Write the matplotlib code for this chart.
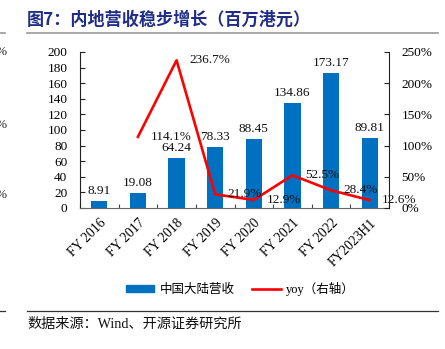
import numpy as np
import matplotlib
matplotlib.use("Agg")
import matplotlib.pyplot as plt
from matplotlib.lines import Line2D
from matplotlib.patches import Patch

categories = ["FY 2016", "FY 2017", "FY 2018", "FY 2019", "FY 2020", "FY 2021", "FY 2022", "FY2023H1"]
revenue = [8.91, 19.08, 64.24, 78.33, 88.45, 134.86, 173.17, 89.81]
yoy = [np.nan, 114.1, 236.7, 21.9, 12.9, 52.5, 28.4, 12.6]
left_ticks = [0, 20, 40, 60, 80, 100, 120, 140, 160, 180, 200]
right_ticks = [0, 50, 100, 150, 200, 250]

serif = ["Liberation Serif", "Noto Sans CJK SC"]
cjk = ["Noto Sans CJK SC", "Liberation Serif"]
plt.rcParams["font.family"] = serif

W, H = 445, 349
fig = plt.figure(figsize=(W / 100, H / 100), dpi=100)

def fx(px):
    return px / W

def fy(py):
    return 1 - py / H

ax = fig.add_axes([fx(80), fy(208), fx(389) - fx(80), fy(52) - fy(208)])
x = np.arange(len(categories))
bars = ax.bar(x, revenue, width=0.42, color="#0070C0", zorder=2)
for xi, v in zip(x, revenue):
    ax.annotate(f"{v:.2f}", (xi, v), xytext=(0, 3), textcoords="offset points",
                ha="center", va="bottom", fontsize=9.5, color="#111111")

ax.set_xlim(-0.5, len(categories) - 0.5)
ax.set_ylim(0, 200)
ax.set_yticks(left_ticks)
ax.set_xticks(np.arange(len(categories) + 1) - 0.5, minor=False)
ax.set_xticklabels([])
ax.set_xticks(x, minor=True)
ax.set_xticklabels(categories, minor=True, rotation=45, ha="right", va="top",
                   rotation_mode="anchor", fontsize=9.8)
ax.tick_params(axis="x", which="major", direction="in", length=3, color="#444444")
ax.tick_params(axis="x", which="minor", length=0, pad=6)
ax.tick_params(axis="y", direction="in", length=3.5, labelsize=9.5, pad=9, color="#222222")
ax.spines["top"].set_visible(False)
ax.spines["right"].set_visible(False)
ax.spines["bottom"].set_color("#666666")
ax.spines["left"].set_color("#222222")

ax2 = ax.twinx()
ax2.plot(x, yoy, color="#FF0000", lw=1.9, zorder=3, clip_on=False)
ax2.set_ylim(0, 250)
ax2.set_yticks(right_ticks)
ax2.set_yticklabels([f"{t}%" for t in right_ticks])
ax2.tick_params(axis="y", direction="in", length=3.5, labelsize=9.5, pad=9, color="#222222")
ax2.spines["top"].set_visible(False)
ax2.spines["left"].set_visible(False)
ax2.spines["bottom"].set_visible(False)
ax2.spines["right"].set_color("#222222")
for xi, v in zip(x, yoy):
    if np.isnan(v):
        continue
    ax2.annotate(f"{v:.1f}%", (xi, v), xytext=(9, 0), textcoords="offset points",
                 ha="left", va="center", fontsize=9.5, color="#111111",
                 annotation_clip=False)

handles = [Patch(color="#0070C0"), Line2D([0], [0], color="#FF0000", lw=1.9)]
leg = fig.legend(handles, ["中国大陆营收", "yoy（右轴）"], loc="center",
                 bbox_to_anchor=(fx(240), fy(289)), ncol=2, frameon=False,
                 handlelength=2.3, handleheight=0.45, columnspacing=1.4, handletextpad=0.4,
                 prop={"family": serif, "size": 9})

# title and frame lines
fig.text(fx(27), fy(20), "图7：内地营收稳步增长（百万港元）", ha="left", va="center",
         fontsize=12.3, fontweight="bold", color="#1F2D86", family=cjk)
fig.add_artist(Line2D([fx(27), fx(438)], [fy(33), fy(33)], color="#999999", lw=1.2))
fig.add_artist(Line2D([fx(0), fx(5)], [fy(33), fy(33)], color="#999999", lw=1.2))
fig.add_artist(Line2D([fx(27), fx(438)], [fy(311), fy(311)], color="#333333", lw=0.9))
fig.add_artist(Line2D([fx(0), fx(5)], [fy(311), fy(311)], color="#333333", lw=0.9))
fig.text(fx(27), fy(324), "数据来源：Wind、开源证券研究所", ha="left", va="center",
         fontsize=10.2, color="#111111", family=serif)

# stray fragments from adjacent page
for py in [52, 125, 195]:
    fig.text(fx(-5), fy(py), "%", ha="left", va="center", fontsize=9.5, color="#222222")

fig.savefig("out.png", dpi=100)
